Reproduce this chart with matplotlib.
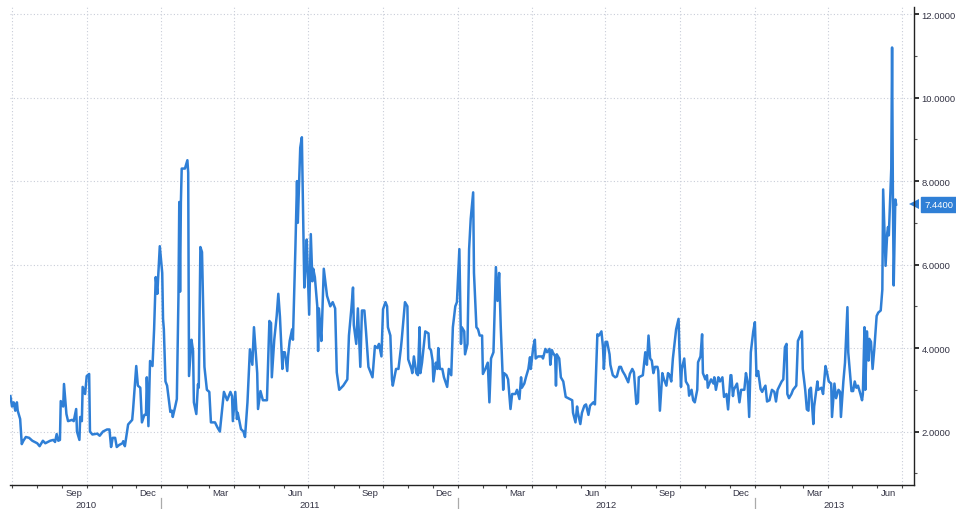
import numpy as np
import pandas as pd
import matplotlib
matplotlib.use('Agg')
import matplotlib.pyplot as plt
import matplotlib.dates as mdates
import matplotlib.transforms as mtransforms

plt.rcParams['font.family'] = ['Liberation Sans', 'DejaVu Sans']

# days since 2010-07-01
days = [-2, 0, 2, 4, 6, 7, 10, 12, 14, 17, 21, 25, 31, 34, 38, 41, 47, 51, 53, 55,
        57, 59, 60, 63, 64, 67, 69, 74, 76, 79, 80, 83, 84, 86, 87, 90, 92, 95, 96, 99,
        105, 108, 112, 117, 120, 122, 124, 127, 129, 132, 136, 137, 139, 142, 143, 148, 149, 153, 155, 158,
        160, 163, 165, 166, 168, 170, 173, 175, 177, 179, 180, 182, 185, 186, 187, 189, 191, 195, 197, 198,
        201, 203, 205, 206, 207, 208, 209, 213, 216, 217, 218, 221, 223, 224, 227, 229, 230, 232, 234, 237,
        240, 243, 245, 250, 253, 256, 261, 265, 269, 271, 272, 275, 277, 278, 282, 285, 287, 290, 293, 296,
        298, 302, 303, 306, 309, 314, 317, 319, 320, 323, 326, 328, 330, 333, 334, 336, 339, 340, 342, 345,
        346, 349, 351, 352, 355, 357, 358, 360, 362, 363, 366, 368, 370, 371, 373, 376, 377, 378, 381, 382,
        384, 388, 392, 395, 398, 400, 403, 408, 413, 415, 418, 420, 421, 424, 426, 429, 431, 434, 436, 439,
        444, 447, 450, 452, 455, 457, 460, 462, 463, 466, 468, 469, 473, 476, 479, 480, 484, 487, 488, 492,
        493, 495, 498, 500, 502, 503, 505, 509, 513, 514, 516, 518, 519, 522, 524, 525, 527, 530, 532, 536,
        538, 541, 543, 546, 548, 551, 553, 554, 557, 558, 561, 563, 565, 568, 569, 572, 574, 576, 579, 580,
        583, 586, 588, 590, 593, 596, 598, 600, 602, 605, 606, 609, 611, 614, 616, 620, 622, 625, 627, 628,
        631, 633, 636, 638, 639, 642, 644, 645, 648, 653, 654, 657, 659, 662, 663, 665, 666, 669, 670, 671,
        674, 676, 679, 682, 685, 690, 691, 694, 696, 697, 700, 702, 705, 707, 710, 712, 716, 718, 721, 723,
        726, 728, 729, 731, 733, 736, 737, 740, 743, 745, 748, 750, 752, 755, 759, 761, 764, 766, 769, 771,
        772, 777, 780, 782, 784, 786, 788, 790, 792, 795, 796, 798, 801, 803, 806, 808, 810, 812, 814, 818,
        821, 822, 824, 825, 828, 830, 833, 834, 837, 839, 841, 844, 845, 848, 850, 851, 854, 856, 857, 861,
        864, 865, 867, 870, 872, 875, 877, 880, 882, 885, 886, 888, 889, 893, 896, 898, 902, 904, 906, 908,
        910, 913, 915, 917, 919, 922, 924, 925, 928, 930, 933, 936, 939, 941, 943, 948, 950, 952, 954, 955,
        957, 960, 962, 966, 968, 971, 973, 974, 977, 979, 981, 982, 984, 987, 988, 992, 993, 997, 999, 1002,
        1004, 1006, 1009, 1010, 1013, 1015, 1018, 1020, 1021, 1024, 1026, 1029, 1030, 1034, 1036, 1038, 1040, 1042, 1045, 1047,
        1048, 1050, 1051, 1053, 1055, 1056, 1058, 1060, 1062, 1065, 1067, 1070, 1072, 1073, 1076, 1078, 1079, 1080, 1083, 1084,
        1085, 1086, 1088, 1089]

values = [2.85, 2.6, 2.7, 2.5, 2.7, 2.5, 2.3, 1.7, 1.78, 1.87, 1.85, 1.78, 1.72, 1.65, 1.78, 1.72, 1.78, 1.8, 1.75, 1.94,
          1.78, 1.8, 2.73, 2.6, 3.14, 2.42, 2.25, 2.28, 2.25, 2.54, 2.0, 1.8, 2.35, 2.25, 3.07, 2.9, 3.33, 3.38, 2.0, 1.93,
          1.95, 1.9, 2.0, 2.05, 2.05, 1.63, 1.85, 1.85, 1.63, 1.68, 1.72, 1.77, 1.65, 2.05, 2.17, 2.28, 2.5, 3.57, 3.1, 3.05,
          2.22, 2.4, 2.4, 3.3, 2.13, 3.69, 3.57, 4.45, 5.7, 5.3, 5.7, 6.44, 5.8, 4.7, 4.45, 3.2, 3.1, 2.47, 2.5, 2.35,
          2.6, 2.78, 5.25, 7.5, 5.35, 7.5, 8.3, 8.3, 8.5, 8.2, 3.33, 4.2, 3.93, 2.7, 2.42, 3.13, 3.05, 6.42, 6.3, 3.55,
          3.0, 2.95, 2.22, 2.22, 2.1, 2.0, 2.95, 2.75, 2.95, 2.85, 2.25, 2.95, 2.3, 2.45, 2.06, 2.0, 1.87, 2.7, 3.97, 3.6,
          4.5, 3.4, 2.54, 2.97, 2.75, 2.75, 4.65, 4.6, 3.3, 4.2, 4.77, 5.3, 4.75, 3.5, 3.9, 3.9, 3.45, 3.8, 4.17, 4.45,
          4.2, 6.37, 8.0, 7.0, 8.8, 9.05, 7.9, 5.45, 6.1, 6.6, 4.8, 6.73, 5.6, 5.9, 5.7, 5.0, 3.93, 4.95, 4.17, 4.7,
          5.9, 5.25, 5.0, 5.1, 4.95, 3.42, 3.0, 3.1, 3.25, 4.3, 4.95, 5.45, 4.55, 4.1, 4.95, 3.55, 4.9, 4.9, 4.4, 3.55,
          3.3, 4.05, 4.0, 4.1, 3.8, 4.93, 5.1, 5.0, 4.5, 4.3, 3.25, 3.1, 3.5, 3.5, 4.0, 4.2, 5.1, 5.0, 3.73, 3.5,
          3.4, 3.8, 3.4, 3.35, 4.5, 3.4, 3.65, 4.4, 4.35, 4.0, 3.95, 3.7, 3.2, 3.65, 3.5, 4.0, 3.5, 3.5, 3.3, 3.07,
          3.5, 3.35, 4.5, 5.0, 5.1, 6.37, 4.1, 4.5, 4.4, 3.85, 4.1, 6.37, 7.1, 7.73, 5.8, 4.5, 4.45, 4.3, 4.3, 3.38,
          3.5, 3.65, 2.7, 3.75, 3.9, 5.94, 5.13, 5.8, 4.5, 3.0, 3.4, 3.35, 3.25, 2.54, 2.9, 2.9, 3.0, 2.78, 3.3, 3.05,
          3.15, 3.3, 3.5, 3.78, 3.5, 4.02, 4.2, 3.75, 3.8, 3.8, 3.75, 3.98, 3.9, 3.98, 3.6, 3.95, 3.9, 3.8, 3.1, 3.85,
          3.75, 3.3, 3.2, 2.83, 2.8, 2.75, 2.45, 2.22, 2.6, 2.45, 2.18, 2.45, 2.62, 2.65, 2.4, 2.62, 2.7, 2.65, 4.33, 4.3,
          4.4, 4.0, 3.5, 4.15, 4.15, 3.85, 3.6, 3.35, 3.3, 3.32, 3.55, 3.55, 3.45, 3.35, 3.18, 3.38, 3.5, 3.42, 2.66, 2.7,
          3.3, 3.35, 3.9, 3.6, 4.3, 3.75, 3.7, 3.4, 3.55, 3.55, 3.45, 2.5, 3.4, 3.25, 3.1, 3.4, 3.35, 3.2, 3.75, 4.45,
          4.7, 4.0, 3.07, 3.5, 3.75, 3.2, 3.1, 2.86, 3.0, 2.75, 2.7, 3.0, 3.66, 3.8, 4.33, 3.4, 3.25, 3.35, 3.05, 3.25,
          3.15, 3.3, 3.0, 3.3, 3.2, 3.3, 2.83, 2.9, 2.53, 3.35, 3.35, 2.85, 3.0, 3.15, 2.7, 3.0, 3.0, 3.4, 3.2, 2.35,
          3.9, 4.4, 4.62, 3.33, 3.45, 3.02, 2.95, 3.0, 3.1, 2.72, 2.75, 3.0, 2.95, 2.72, 3.0, 3.2, 3.25, 4.02, 4.1, 2.9,
          2.8, 2.9, 3.0, 3.1, 4.17, 4.3, 4.4, 3.5, 3.0, 2.53, 2.5, 3.0, 3.05, 2.18, 2.6, 3.2, 3.0, 3.05, 2.9, 3.57,
          3.4, 3.2, 3.15, 2.35, 3.15, 2.8, 3.0, 2.95, 2.35, 3.2, 3.65, 4.98, 3.9, 2.97, 2.97, 3.2, 3.05, 3.1, 2.9, 2.75,
          2.9, 4.5, 3.0, 4.4, 3.7, 4.22, 4.15, 3.5, 3.95, 4.77, 4.85, 4.9, 5.4, 7.8, 5.97, 6.75, 6.9, 6.7, 8.3, 11.2,
          7.65, 5.5, 7.56, 7.44]

start = pd.Timestamp('2010-07-01')
dates = start + pd.to_timedelta(days, unit='D')
last_value = values[-1]

line_color = '#2f7fd6'
text_color = '#333344'
grid_color = '#c9cdd8'
fs = 6.8

fig = plt.figure(figsize=(9.56, 5.10), dpi=100)
ax = fig.add_axes([10 / 956, 24 / 510, 904 / 956, 478 / 510])

ax.plot(dates, values, color=line_color, lw=1.8, solid_joinstyle='round')

x0 = pd.Timestamp('2010-06-28 12:00')
x1 = pd.Timestamp('2013-07-16')
ax.set_xlim(x0, x1)
ax.set_ylim(0.72, 12.17)

for s in ['left', 'top']:
    ax.spines[s].set_visible(False)
for s in ['right', 'bottom']:
    ax.spines[s].set_color('#222222')
    ax.spines[s].set_linewidth(1)

# right hand value axis
ax.yaxis.tick_right()
ax.set_yticks(np.arange(2, 13, 2))
ax.set_yticks(np.arange(1, 12, 2), minor=True)
ax.yaxis.set_major_formatter(matplotlib.ticker.FormatStrFormatter('%.4f'))
ax.tick_params(axis='y', which='major', direction='out', length=3.5, width=1.3,
               color='#222222', labelsize=fs, labelcolor=text_color, pad=2)
ax.tick_params(axis='y', which='minor', direction='out', length=2.5, width=0.8, color='#555555')

# month ticks and quarter labels
ax.xaxis.set_major_locator(mdates.MonthLocator(bymonth=[3, 6, 9, 12], bymonthday=15))
ax.xaxis.set_major_formatter(mdates.DateFormatter('%b'))
ax.xaxis.set_minor_locator(mdates.MonthLocator())
ax.tick_params(axis='x', which='major', length=0, labelsize=fs, labelcolor=text_color, pad=2)
ax.tick_params(axis='x', which='minor', direction='out', length=2.5, width=0.8, color='#444444')

# grid
for y in np.arange(2, 13, 2):
    ax.axhline(y, color=grid_color, lw=0.8, ls=(0, (1, 2)), zorder=0)
for q in pd.date_range('2010-07-01', '2013-07-01', freq='QS'):
    ax.axvline(q, color=grid_color, lw=0.8, ls=(0, (1, 2)), zorder=0)

# year labels and separators
trans = mtransforms.blended_transform_factory(ax.transData, ax.transAxes)
for yr in [2010, 2011, 2012, 2013]:
    a = max(x0, pd.Timestamp(f'{yr}-01-01'))
    b = min(x1, pd.Timestamp(f'{yr + 1}-01-01'))
    mid = a + (b - a) / 2
    ax.annotate(str(yr), xy=(mdates.date2num(mid), 0), xycoords=trans,
                xytext=(0, -20), textcoords='offset pixels', ha='center', va='center',
                fontsize=fs, color=text_color, annotation_clip=False)
for yr in [2011, 2012, 2013]:
    xs = mdates.date2num(pd.Timestamp(f'{yr}-01-01'))
    ax.plot([xs, xs], [-0.027, -0.06], transform=trans, color='#aaaaaa', lw=0.9, clip_on=False)

# last value badge
vtrans = mtransforms.blended_transform_factory(ax.transAxes, ax.transData)
ax.plot([1.0], [last_value], marker='<', ms=7, color=line_color, transform=vtrans,
        clip_on=False, markeredgewidth=0)
ax.annotate(f'{last_value:.4f}', xy=(1.0, last_value), xycoords=vtrans,
            xytext=(10, 0), textcoords='offset pixels', ha='left', va='center',
            fontsize=fs, color='white', annotation_clip=False,
            bbox=dict(boxstyle='square,pad=0.35', fc=line_color, ec=line_color))

fig.savefig('out.png', dpi=100)
